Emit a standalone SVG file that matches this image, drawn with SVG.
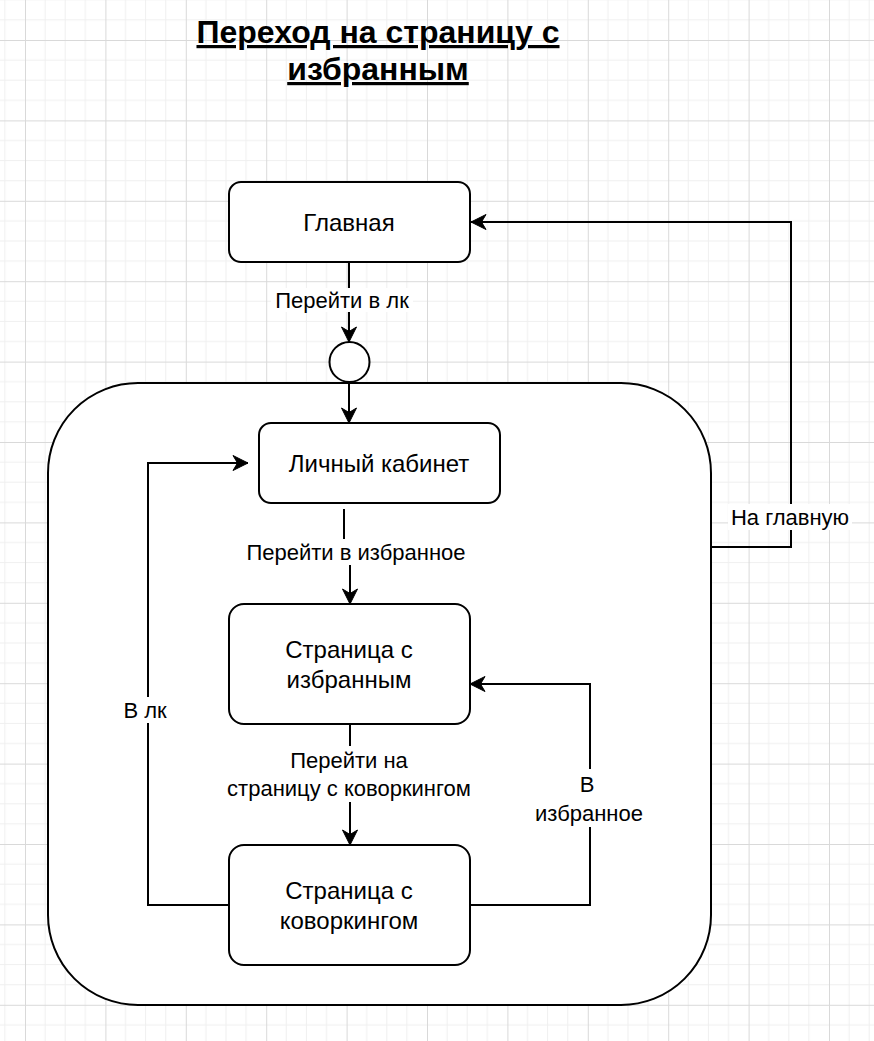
<svg xmlns="http://www.w3.org/2000/svg" width="874" height="1041" viewBox="0 0 874 1041">
  <defs>
    <style>
      .node { fill: #ffffff; stroke: #000000; stroke-width: 2; }
      .edge { fill: none; stroke: #000000; stroke-width: 2; }
      .label-bg { fill: #ffffff; }
      text { font-family: "Liberation Sans", Arial, sans-serif; fill: #000000; }
      .t { font-size: 24px; text-anchor: middle; dominant-baseline: central; }
      .lbl { font-size: 22px; text-anchor: middle; dominant-baseline: central; }
      .title { font-size: 32px; font-weight: bold; text-anchor: middle; text-decoration: underline; }
    </style>
    <!-- background grid: minor 20.1, major every 4 cells -->
    <pattern id="grid" patternUnits="userSpaceOnUse" x="25" y="40" width="80.4" height="80.4">
      <path d="M20.1 0V80.4M40.2 0V80.4M60.3 0V80.4M0 20.1H80.4M0 40.2H80.4M0 60.3H80.4" stroke="#efefef" stroke-width="1" fill="none"/>
      <path d="M0.5 0V80.4M0 0.5H80.4" stroke="#d9d9d9" stroke-width="1" fill="none"/>
    </pattern>
    <marker id="arrow" markerUnits="userSpaceOnUse" markerWidth="18" markerHeight="18" refX="16" refY="9" orient="auto" viewBox="0 0 18 18">
      <path d="M16 9 L1 1.5 L5.5 9 L1 16.5 Z" fill="#000000" stroke="#000000" stroke-width="1"/>
    </marker>
  </defs>

  <rect x="0" y="0" width="874" height="1041" fill="#ffffff"/>
  <rect x="0" y="0" width="874" height="1041" fill="url(#grid)"/>

  <!-- title -->
  <g id="title">
    <text class="title" x="378" y="43">Переход на страницу с</text>
    <text class="title" x="378" y="80">избранным</text>
  </g>

  <!-- composite state container -->
  <g id="cabinet-area">
    <rect class="node" x="48" y="383" width="663" height="622" rx="90" ry="90"/>
  </g>

  <!-- connectors -->
  <g id="connectors">
    <!-- Главная -> entry point -->
    <path class="edge" d="M349 262V342" marker-end="url(#arrow)"/>
    <rect class="label-bg" x="271" y="288" width="142" height="24"/>
    <text class="lbl" x="342" y="300">Перейти в лк</text>

    <!-- entry point -> Личный кабинет -->
    <path class="edge" d="M349 382V423" marker-end="url(#arrow)"/>

    <!-- Личный кабинет -> Страница с избранным -->
    <path class="edge" d="M344 509V552H350V604" marker-end="url(#arrow)"/>
    <rect class="label-bg" x="242" y="539" width="228" height="26"/>
    <text class="lbl" x="356" y="552">Перейти в избранное</text>

    <!-- Страница с избранным -> Страница с коворкингом -->
    <path class="edge" d="M350 724V845" marker-end="url(#arrow)"/>
    <rect class="label-bg" x="224" y="746" width="252" height="56"/>
    <text class="lbl" x="349" y="760">Перейти на</text>
    <text class="lbl" x="349" y="788">страницу с коворкингом</text>

    <!-- Страница с коворкингом -> Личный кабинет -->
    <path class="edge" d="M229 905H148V463H248" marker-end="url(#arrow)"/>
    <rect class="label-bg" x="118" y="697" width="54" height="26"/>
    <text class="lbl" x="145" y="710">В лк</text>

    <!-- Страница с коворкингом -> Страница с избранным -->
    <path class="edge" d="M469 905H590V684H470" marker-end="url(#arrow)"/>
    <rect class="label-bg" x="532" y="769" width="116" height="58"/>
    <text class="lbl" x="587" y="784">В</text>
    <text class="lbl" x="589" y="813">избранное</text>

    <!-- container -> Главная -->
    <path class="edge" d="M711 547H791V222H471" marker-end="url(#arrow)"/>
    <rect class="label-bg" x="728" y="504" width="124" height="26"/>
    <text class="lbl" x="790" y="517">На главную</text>
  </g>

  <!-- nodes -->
  <g id="node-main">
    <rect class="node" x="229" y="182" width="241" height="80" rx="12" ry="12"/>
    <text class="t" x="349" y="222">Главная</text>
  </g>

  <g id="node-entry">
    <circle class="node" cx="349.5" cy="362" r="20"/>
  </g>

  <g id="node-cabinet">
    <rect class="node" x="259" y="423" width="241" height="80" rx="12" ry="12"/>
    <text class="t" x="379" y="463">Личный кабинет</text>
  </g>

  <g id="node-favorites">
    <rect class="node" x="229" y="604" width="241" height="120" rx="15" ry="15"/>
    <text class="t" x="349" y="649">Страница с</text>
    <text class="t" x="349" y="679">избранным</text>
  </g>

  <g id="node-coworking">
    <rect class="node" x="229" y="845" width="241" height="120" rx="15" ry="15"/>
    <text class="t" x="349" y="890">Страница с</text>
    <text class="t" x="349" y="920">коворкингом</text>
  </g>
</svg>
